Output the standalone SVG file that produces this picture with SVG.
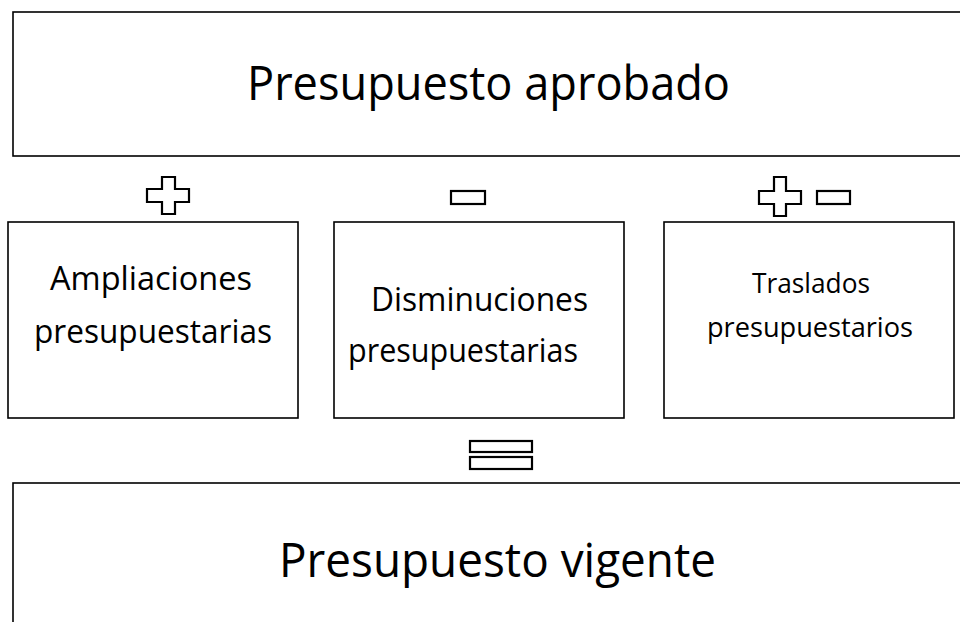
<svg xmlns="http://www.w3.org/2000/svg" width="960" height="622" viewBox="0 0 960 622">
<style>
.box{fill:#fff;stroke:#000;stroke-width:1.6}
.sym{fill:#fff;stroke:#000;stroke-width:2.2}
text{font-family:"Open Sans","Noto Sans","Liberation Sans",sans-serif;fill:#000;text-anchor:middle}
.big{font-size:48px}
.mid{font-size:32px}
.sm{font-size:28px}
</style>
<rect width="960" height="622" fill="#fff"/>
<g id="aprobado">
<rect class="box" x="13" y="12" width="960" height="144"/>
<text class="big" x="488.5" y="100" textLength="483" lengthAdjust="spacingAndGlyphs">Presupuesto aprobado</text>
</g>
<g id="ampliaciones">
<rect class="box" x="8" y="222" width="290" height="196"/>
<text class="mid" x="151" y="290" textLength="202" lengthAdjust="spacingAndGlyphs">Ampliaciones</text>
<text class="mid" x="153" y="343" textLength="238" lengthAdjust="spacingAndGlyphs">presupuestarias</text>
</g>
<g id="disminuciones">
<rect class="box" x="334" y="222" width="290" height="196"/>
<text class="mid" x="479.5" y="311" textLength="217" lengthAdjust="spacingAndGlyphs">Disminuciones</text>
<text class="mid" x="463" y="362" textLength="230" lengthAdjust="spacingAndGlyphs">presupuestarias</text>
</g>
<g id="traslados">
<rect class="box" x="664" y="222" width="290" height="196"/>
<text class="sm" x="811" y="293" textLength="118" lengthAdjust="spacingAndGlyphs">Traslados</text>
<text class="sm" x="810" y="337" textLength="206" lengthAdjust="spacingAndGlyphs">presupuestarios</text>
</g>
<g id="vigente">
<rect class="box" x="13" y="483" width="960" height="160"/>
<text class="big" x="497.5" y="577" textLength="437" lengthAdjust="spacingAndGlyphs">Presupuesto vigente</text>
</g>
<g id="operators">
<path class="sym" d="M162 177H175V189H189V202H175V214H162V202H147V189H162Z"/>
<rect class="sym" x="451" y="191" width="34" height="13"/>
<path class="sym" d="M774 177H786V191H801V204H786V216H774V204H759V191H774Z"/>
<rect class="sym" x="817" y="191" width="33" height="13"/>
<rect class="sym" x="470" y="441" width="62" height="11"/>
<rect class="sym" x="470" y="457" width="62" height="12"/>
</g>
</svg>
